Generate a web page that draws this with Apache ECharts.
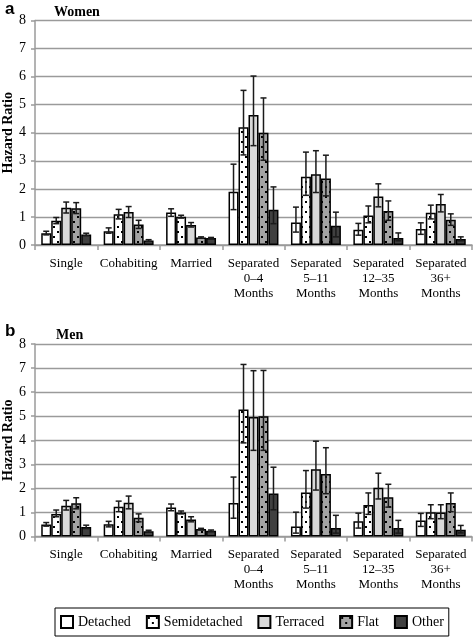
<!DOCTYPE html>
<html><head><meta charset="utf-8">
<script src="https://cdn.jsdelivr.net/npm/echarts@6/dist/echarts.min.js"></script>
<style>html,body{margin:0;padding:0;background:#fff}#c{width:473px;height:637px}</style>
</head><body><div id="c"></div>
<script>
// ---------- DATA ----------
const categories = ['Single', 'Cohabiting', 'Married', 'Separated\n0–4\nMonths', 'Separated\n5–11\nMonths', 'Separated\n12–35\nMonths', 'Separated\n36+\nMonths'];
const housingTypes = ['Detached', 'Semidetached', 'Terraced', 'Flat', 'Other'];
const yTickMin = 0, yTickMax = 8, yTickStep = 1;

// Women (panel a)
const womenDetached      = [0.42, 0.49, 1.16, 1.90, 0.80, 0.54, 0.57];
const womenDetachedLow   = [0.36, 0.42, 1.02, 1.26, 0.46, 0.35, 0.38];
const womenDetachedHigh  = [0.49, 0.61, 1.29, 2.88, 1.35, 0.77, 0.79];
const womenSemi          = [0.86, 1.10, 1.01, 4.20, 2.43, 1.05, 1.15];
const womenSemiLow       = [0.76, 0.93, 0.96, 3.21, 1.77, 0.79, 0.93];
const womenSemiHigh      = [0.98, 1.27, 1.06, 5.51, 3.31, 1.39, 1.42];
const womenTerraced      = [1.33, 1.18, 0.71, 4.63, 2.52, 1.73, 1.46];
const womenTerracedLow   = [1.14, 0.98, 0.64, 3.54, 1.87, 1.36, 1.18];
const womenTerracedHigh  = [1.53, 1.37, 0.80, 6.02, 3.36, 2.18, 1.80];
const womenFlat          = [1.31, 0.73, 0.27, 4.00, 2.37, 1.21, 0.90];
const womenFlatLow       = [1.12, 0.59, 0.24, 3.02, 1.75, 0.88, 0.70];
const womenFlatHigh      = [1.51, 0.88, 0.29, 5.24, 3.20, 1.57, 1.11];
const womenOther         = [0.37, 0.16, 0.25, 1.26, 0.69, 0.25, 0.21];
const womenOtherLow      = [0.33, 0.13, 0.23, 0.76, 0.29, 0.15, 0.15];
const womenOtherHigh     = [0.42, 0.19, 0.27, 2.07, 1.17, 0.43, 0.29];

// Men (panel b)
const menDetached      = [0.50, 0.51, 1.21, 1.39, 0.42, 0.63, 0.67];
const menDetachedLow   = [0.43, 0.40, 1.07, 0.76, 0.14, 0.35, 0.42];
const menDetachedHigh  = [0.58, 0.63, 1.35, 2.47, 1.01, 0.97, 0.96];
const menSemi          = [0.94, 1.24, 1.00, 5.28, 1.83, 1.31, 1.01];
const menSemiLow       = [0.82, 1.03, 0.94, 3.89, 1.18, 0.92, 0.74];
const menSemiHigh      = [1.10, 1.47, 1.06, 7.15, 2.74, 1.81, 1.32];
const menTerraced      = [1.28, 1.40, 0.71, 4.97, 2.79, 2.03, 1.00];
const menTerracedLow   = [1.10, 1.15, 0.61, 3.58, 1.93, 1.56, 0.74];
const menTerracedHigh  = [1.50, 1.68, 0.82, 6.89, 3.96, 2.63, 1.32];
const menFlat          = [1.38, 0.78, 0.31, 5.00, 2.60, 1.63, 1.39];
const menFlatLow       = [1.15, 0.61, 0.27, 3.58, 1.78, 1.22, 1.03];
const menFlatHigh      = [1.61, 0.94, 0.34, 6.90, 3.69, 2.17, 1.81];
const menOther         = [0.39, 0.22, 0.24, 1.79, 0.35, 0.35, 0.28];
const menOtherLow      = [0.33, 0.18, 0.21, 1.11, 0.14, 0.14, 0.15];
const menOtherHigh     = [0.47, 0.26, 0.27, 2.88, 0.88, 0.67, 0.46];

// ---------- STYLE ----------
const SERIF = '"Liberation Serif", "DejaVu Serif", serif';
const GRID_GRAY = '#9a9a9a';
const CAT_GAP = 0.2;

function dotPattern(bg) {
  const c = document.createElement('canvas');
  c.width = 8; c.height = 10;
  const g = c.getContext('2d');
  g.fillStyle = bg; g.fillRect(0, 0, 8, 10);
  g.fillStyle = '#000';
  g.fillRect(1, 1, 2, 2);
  g.fillRect(5, 6, 2, 2);
  return c;
}
const fills = [
  '#ffffff',
  { image: dotPattern('#ffffff'), repeat: 'repeat' },
  '#d9d9d9',
  { image: dotPattern('#a3a3a3'), repeat: 'repeat' },
  '#404040'
];

const women = [
  [womenDetached, womenDetachedLow, womenDetachedHigh],
  [womenSemi, womenSemiLow, womenSemiHigh],
  [womenTerraced, womenTerracedLow, womenTerracedHigh],
  [womenFlat, womenFlatLow, womenFlatHigh],
  [womenOther, womenOtherLow, womenOtherHigh]
];
const men = [
  [menDetached, menDetachedLow, menDetachedHigh],
  [menSemi, menSemiLow, menSemiHigh],
  [menTerraced, menTerracedLow, menTerracedHigh],
  [menFlat, menFlatLow, menFlatHigh],
  [menOther, menOtherLow, menOtherHigh]
];

function errRenderer(idx) {
  return function (params, api) {
    const c = api.value(0);
    const pLo = api.coord([c, api.value(1)]);
    const pHi = api.coord([c, api.value(2)]);
    const catW = api.size([1, 0])[0];
    const barW = catW * (1 - CAT_GAP) / 5;
    const x = pLo[0] + (idx - 2) * barW;
    const h = 3;
    const st = { stroke: '#1a1a1a', lineWidth: 1.5 };
    return {
      type: 'group', children: [
        { type: 'line', shape: { x1: x, y1: pLo[1], x2: x, y2: pHi[1] }, style: st },
        { type: 'line', shape: { x1: x - h, y1: pHi[1], x2: x + h, y2: pHi[1] }, style: st },
        { type: 'line', shape: { x1: x - h, y1: pLo[1], x2: x + h, y2: pLo[1] }, style: st }
      ]
    };
  };
}

const series = [];
[women, men].forEach((panel, p) => {
  panel.forEach((d, i) => {
    series.push({
      type: 'bar', name: housingTypes[i], xAxisIndex: p, yAxisIndex: p,
      data: d[0], barGap: '0%', barCategoryGap: (CAT_GAP * 100) + '%',
      itemStyle: { color: fills[i], borderColor: '#000', borderWidth: 1.5 },
      emphasis: { disabled: true }, z: 2
    });
  });
  panel.forEach((d, i) => {
    series.push({
      type: 'custom', name: housingTypes[i] + ' CI', xAxisIndex: p, yAxisIndex: p,
      renderItem: errRenderer(i),
      data: d[0].map((v, k) => [k, d[1][k], d[2][k]]),
      encode: { x: 0, y: [1, 2] }, z: 5, silent: true
    });
  });
});

function xAxis(idx) {
  return {
    type: 'category', gridIndex: idx, data: categories,
    axisLine: { lineStyle: { color: GRID_GRAY, width: 1.5 } },
    axisTick: { show: true, length: 5, lineStyle: { color: GRID_GRAY, width: 1.5 } },
    axisLabel: { interval: 0, color: '#000', fontFamily: SERIF, fontSize: 13, lineHeight: 15, margin: 11 }
  };
}
function yAxis(idx) {
  return {
    type: 'value', gridIndex: idx, min: yTickMin, max: yTickMax, interval: yTickStep,
    name: 'Hazard Ratio', nameLocation: 'middle', nameRotate: 90, nameGap: 20, nameMoveOverlap: false,
    nameTextStyle: { fontFamily: SERIF, fontSize: 14, fontWeight: 'bold', color: '#000' },
    axisLine: { show: true, lineStyle: { color: GRID_GRAY, width: 1.5 } },
    axisTick: { show: true, length: 4, lineStyle: { color: GRID_GRAY, width: 1.5 } },
    axisLabel: { color: '#000', fontFamily: SERIF, fontSize: 14, margin: 9 },
    splitLine: { lineStyle: { color: GRID_GRAY, width: 1.3 } }
  };
}

const chart = echarts.init(document.getElementById('c'), null, { renderer: 'canvas' });
chart.setOption({
  animation: false,
  backgroundColor: '#fff',
  title: [
    { text: 'a', left: 0, top: -4, textStyle: { fontFamily: '"Liberation Sans", Arial, sans-serif', fontSize: 17, fontWeight: 'bold', color: '#000' } },
    { text: 'Women', left: 49, top: 0, textStyle: { fontFamily: SERIF, fontSize: 14, fontWeight: 'bold', color: '#000' } },
    { text: 'b', left: 0, top: 318, textStyle: { fontFamily: '"Liberation Sans", Arial, sans-serif', fontSize: 17, fontWeight: 'bold', color: '#000' } },
    { text: 'Men', left: 51, top: 323, textStyle: { fontFamily: SERIF, fontSize: 14, fontWeight: 'bold', color: '#000' } }
  ],
  legend: {
    data: housingTypes, left: 55, top: 608, orient: 'horizontal',
    icon: 'rect', itemWidth: 12, itemHeight: 12, itemGap: 15,
    padding: [7, 5], borderColor: '#000', borderWidth: 1,
    textStyle: { fontFamily: SERIF, fontSize: 14, color: '#000' },
    selectedMode: false
  },
  grid: [
    { left: 35, right: 1, top: 20.5, height: 224.5, outerBoundsMode: 'none', containLabel: false },
    { left: 35, right: 1, top: 344, height: 192.5, outerBoundsMode: 'none', containLabel: false }
  ],
  xAxis: [xAxis(0), xAxis(1)],
  yAxis: [yAxis(0), yAxis(1)],
  series: series
});
</script>
</body></html>
